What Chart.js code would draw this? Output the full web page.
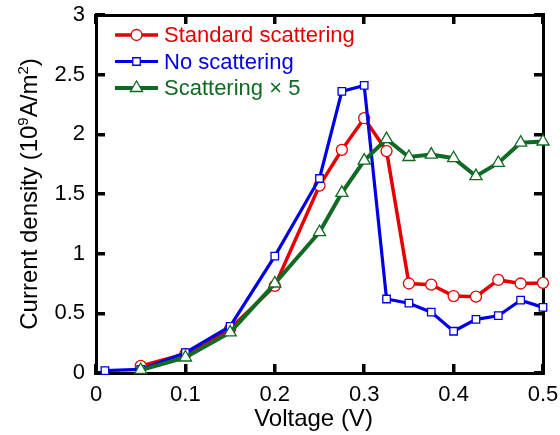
<!DOCTYPE html>
<html>
<head>
<meta charset="utf-8">
<script src="https://cdn.jsdelivr.net/npm/chart.js@4.4.0/dist/chart.umd.min.js"></script>
<style>
body { margin: 0; background: #fff; }
#wrap { width: 560px; height: 435px; }
</style>
</head>
<body>
<div id="wrap"><canvas id="chart"></canvas></div>
<script>
// values (V, 10^9 A/m^2)
var voltage = [0.01, 0.05, 0.1, 0.15, 0.2, 0.25, 0.275, 0.3, 0.325, 0.35, 0.375, 0.4, 0.425, 0.45, 0.475, 0.5]
var standardScattering = [null, 0.06, 0.16, 0.37, 0.73, 1.57, 1.87, 2.135, 1.86, 0.75, 0.74, 0.645, 0.64, 0.78, 0.75, 0.755]
var noScattering = [0.02, 0.03, 0.17, 0.39, 0.98, 1.63, 2.36, 2.41, 0.62, 0.585, 0.51, 0.35, 0.45, 0.48, 0.61, 0.55]
var scatteringX5 = [null, 0.025, 0.13, 0.34, 0.75, 1.18, 1.51, 1.78, 1.96, 1.81, 1.83, 1.80, 1.65, 1.76, 1.93, 1.94]

var seriesLabels = ['Standard scattering', 'No scattering', 'Scattering \u00d7 5']
var xTicks = [0, 0.1, 0.2, 0.3, 0.4, 0.5]
var xTickLabels = ['0', '0.1', '0.2', '0.3', '0.4', '0.5']
var yTicks = [0, 0.5, 1, 1.5, 2, 2.5, 3]
var yTickLabels = ['0', '0.5', '1', '1.5', '2', '2.5', '3']

var RED = '#e60000'
var BLUE = '#0000e6'
var GREEN = '#0f6a22'
var FONT = "'Liberation Sans', Arial, sans-serif"

function toPoints(ys) {
	var pts = []
	for (var i = 0; i < voltage.length; i++) {
		if (ys[i] !== null) pts.push({ x: voltage[i], y: ys[i] })
	}
	return pts
}

function series(label, ys, color, style, radius, width, order) {
	return {
		label: label,
		data: toPoints(ys),
		xAxisID: 'x',
		yAxisID: 'y',
		borderColor: color,
		borderWidth: width,
		pointStyle: style,
		pointRadius: radius,
		pointBorderWidth: 1.3,
		pointBorderColor: color,
		pointBackgroundColor: '#fff',
		tension: 0,
		clip: false,
		order: order,
	}
}

function noPad(s) {
	s.paddingTop = 0
	s.paddingBottom = 0
	s.paddingLeft = 0
	s.paddingRight = 0
}

// black box axis with inward ticks (negative tick length)
function boxAxis(axis, position, min, max, ticks, labels, size, pad) {
	return {
		type: 'linear',
		axis: axis,
		position: position,
		min: min,
		max: max,
		afterBuildTicks: function (s) { s.ticks = ticks.map(function (v) { return { value: v } }) },
		afterFit: function (s) {
			if (axis === 'x') s.height = size
			else s.width = size
			noPad(s)
		},
		border: { display: true, color: '#000', width: 3 },
		grid: {
			display: true,
			drawOnChartArea: false,
			drawTicks: true,
			tickLength: -9,
			tickWidth: 3.5,
			tickColor: '#000',
			color: '#000',
			lineWidth: 3.5,
		},
		ticks: {
			display: labels !== null,
			color: '#000',
			font: { family: FONT, size: 22 },
			padding: pad,
			maxRotation: 0,
			autoSkip: false,
			callback: function (v) { return labels ? labels[ticks.indexOf(v)] : '' },
		},
	}
}

// legend and axis titles
var decor = {
	id: 'decor',
	afterDraw: function (chart) {
		var ctx = chart.ctx
		var a = chart.chartArea
		ctx.save()

		chart.data.datasets.forEach(function (ds, i) {
			var y = a.top + 20 + i * 26.5
			var x0 = a.left + 19
			ctx.strokeStyle = ds.borderColor
			ctx.lineWidth = ds.borderWidth
			ctx.beginPath()
			ctx.moveTo(x0, y); ctx.lineTo(x0 + 43, y)
			ctx.stroke()
			ctx.fillStyle = '#fff'
			ctx.lineWidth = ds.pointBorderWidth
			Chart.helpers.drawPoint(ctx, {
				pointStyle: ds.pointStyle, radius: ds.pointRadius,
				rotation: 0, borderWidth: ds.pointBorderWidth,
			}, x0 + 21.5, y)
			ctx.fillStyle = ds.borderColor
			ctx.font = '22px ' + FONT
			ctx.textAlign = 'left'
			ctx.textBaseline = 'middle'
			ctx.fillText(ds.label, x0 + 49, y + 1)
		})

		// x title
		ctx.fillStyle = '#000'
		ctx.font = '24px ' + FONT
		ctx.textAlign = 'center'
		ctx.textBaseline = 'alphabetic'
		ctx.fillText('Voltage (V)', (a.left + a.right) / 2 - 6, 426)

		// y title with superscripts
		var parts = [['Current density (10', 0], ['9', 1], ['A/m', 0], ['2', 1], [')', 0]]
		var total = 0
		parts.forEach(function (p) {
			ctx.font = (p[1] ? '15px ' : '24px ') + FONT
			p.push(ctx.measureText(p[0]).width)
			total += p[2]
		})
		ctx.translate(37, (a.top + a.bottom) / 2)
		ctx.rotate(-Math.PI / 2)
		ctx.textAlign = 'left'
		var x = -total / 2
		parts.forEach(function (p) {
			ctx.font = (p[1] ? '15px ' : '24px ') + FONT
			ctx.fillText(p[0], x, p[1] ? -9 : 0)
			x += p[2]
		})
		ctx.restore()
	},
}

new Chart(document.getElementById('chart'), {
	type: 'line',
	data: {
		datasets: [
			series(seriesLabels[0], standardScattering, RED, 'circle', 5.5, 3.5, 3),
			series(seriesLabels[1], noScattering, BLUE, 'rect', 5.3, 3.2, 2),
			series(seriesLabels[2], scatteringX5, GREEN, 'triangle', 7, 4, 1),
		],
	},
	options: {
		responsive: true,
		maintainAspectRatio: false,
		animation: false,
		layout: { padding: { top: 15, right: 17, left: 0, bottom: 0 } },
		plugins: { legend: { display: false }, tooltip: { enabled: false } },
		scales: {
			x: boxAxis('x', 'bottom', 0, 0.5, xTicks, xTickLabels, 62, 18),
			x2: boxAxis('x', 'top', 0, 0.5, xTicks, null, 0, 0),
			y: boxAxis('y', 'left', 0, 3, yTicks, yTickLabels, 96, 20),
			y2: boxAxis('y', 'right', 0, 3, yTicks, null, 0, 0),
		},
	},
	plugins: [decor],
})
</script>
</body>
</html>
